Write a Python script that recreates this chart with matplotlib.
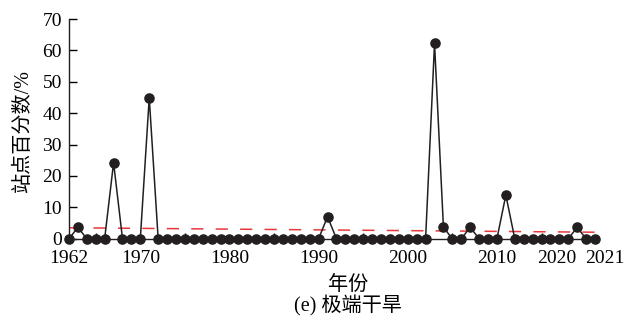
import numpy as np
import matplotlib
matplotlib.use('Agg')
import matplotlib.pyplot as plt
import matplotlib.transforms as mtrans

plt.rcParams['font.family'] = ['Liberation Serif', 'Noto Sans CJK SC']
plt.rcParams['font.size'] = 14

# 极端干旱站点百分数 (%), 1962-2021
years = np.arange(1962, 2022)
pct = np.zeros(len(years))
peak_years = [1963, 1967, 1971, 1991, 2003, 2004, 2007, 2011, 2019]
peak_vals = [3.6, 24.2, 44.9, 7.0, 62.2, 3.6, 3.6, 13.9, 3.6]
for yr, v in zip(peak_years, peak_vals):
    pct[yr - 1962] = v

tick_years = [1962, 1970, 1980, 1990, 2000, 2010, 2020, 2021]
tick_labels = [str(t) for t in tick_years]

# linear trend
k, b = np.polyfit(years, pct, 1)
trend = k * years + b

fig = plt.figure(figsize=(6.35, 3.21), dpi=100)
ax = fig.add_axes([69/635, 1 - 238.7/321, (595 - 69)/635, (238.7 - 19)/321])

ax.plot(years, trend, color='#e8383d', lw=1.1, ls=(0, (8, 8)), zorder=2, clip_on=False)
ax.plot(years, pct, color='#231f20', lw=1.1, marker='o', ms=6.6,
        mfc='#231f20', mec='#231f20', zorder=3, clip_on=False)

ax.set_xlim(1962, 2021)
ax.set_ylim(0, 70)
ax.set_yticks(range(0, 71, 10))
ax.set_xticks(tick_years)
ax.set_xticklabels(tick_labels)
ax.set_xticks(range(1965, 2021, 5), minor=True)

ax.tick_params(axis='y', direction='in', length=6, width=1, pad=5)
ax.tick_params(axis='x', which='major', length=0, pad=8)
ax.tick_params(axis='x', which='minor', direction='in', length=4, width=1)

# nudge the last two year labels apart
offsets = {'2020': -29, '2021': 10}
for lab in ax.get_xticklabels():
    dx = offsets.get(lab.get_text(), 0)
    if dx:
        lab.set_transform(lab.get_transform() +
                          mtrans.ScaledTranslation(dx/100, 0, fig.dpi_scale_trans))

for s in ['top', 'right']:
    ax.spines[s].set_visible(False)
for s in ['left', 'bottom']:
    ax.spines[s].set_linewidth(1)
    ax.spines[s].set_color('#231f20')

ax.set_ylabel('站点百分数/%', fontsize=14.5)
ax.yaxis.set_label_coords(-0.068, 0.49)

fig.text(348/635, 1 - 285/321, '年份', ha='center', va='center', fontsize=14.5)
fig.text(348/635, 1 - 306/321, '(e) 极端干旱', ha='center', va='center', fontsize=14.5)

fig.savefig('out.png', dpi=100)
